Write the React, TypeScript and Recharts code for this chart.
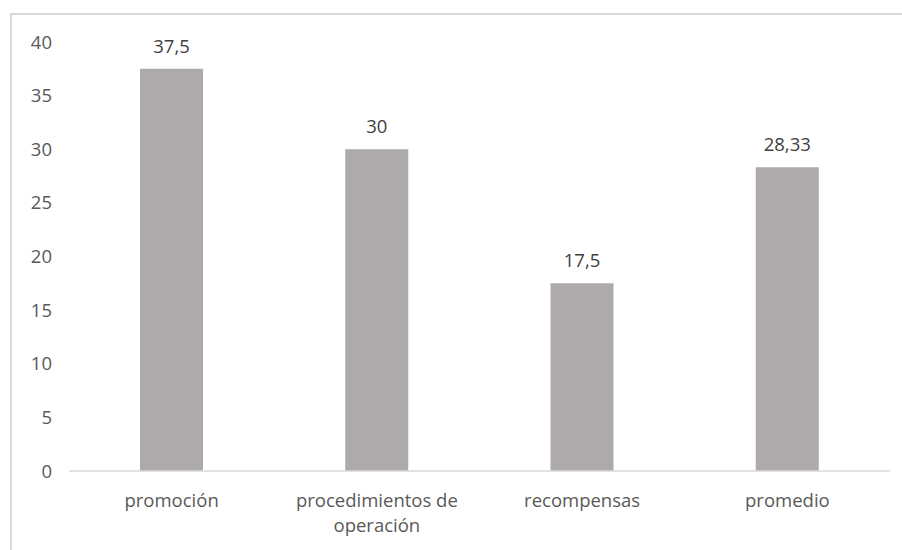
import { Bar, BarChart, LabelList, XAxis, YAxis } from 'recharts';

const categories = ['promoción', 'procedimientos de operación', 'recompensas', 'promedio'];
const values = [37.5, 30, 17.5, 28.33];
const yTicks = [0, 5, 10, 15, 20, 25, 30, 35, 40];

const chartData = categories.map((name, i) => ({ name, value: values[i] }));

const FONT = '"Open Sans", "Noto Sans", sans-serif';

// splits long labels on the last space that keeps the line under maxChars
function wrap(label: string, maxChars: number): string[] {
  const words = label.split(' ');
  const lines: string[] = [];
  let cur = '';
  for (const w of words) {
    const next = cur ? cur + ' ' + w : w;
    if (next.length > maxChars && cur) {
      lines.push(cur);
      cur = w;
    } else {
      cur = next;
    }
  }
  if (cur) lines.push(cur);
  return lines;
}

function CategoryTick(props: any) {
  const { x, y, payload } = props;
  const lines = wrap(String(payload.value), 18);
  return (
    <text x={x} y={y} textAnchor="middle" fill="#595959" fontSize={18.5} fontFamily={FONT}>
      {lines.map((line, i) => (
        <tspan key={i} x={x} dy={i === 0 ? 28 : 25}>
          {line}
        </tspan>
      ))}
    </text>
  );
}

export default function App() {
  return (
    <div
      style={{
        position: 'absolute',
        left: 0,
        top: 0,
        width: 902,
        height: 550,
        overflow: 'hidden',
        background: '#fff',
      }}
    >
      <div
        style={{
          position: 'absolute',
          left: 10,
          top: 13,
          width: 920,
          height: 560,
          border: '2px solid #D9D9D9',
          boxSizing: 'border-box',
        }}
      />
      <div style={{ position: 'absolute', left: 0, top: 0 }}>
        <BarChart
          width={902}
          height={550}
          data={chartData}
          margin={{ top: 42, right: 12, bottom: 49, left: 9 }}
        >
          <XAxis
            dataKey="name"
            height={30}
            axisLine={{ stroke: '#D9D9D9', strokeWidth: 1.5 }}
            tickLine={false}
            interval={0}
            tick={<CategoryTick />}
          />
          <YAxis
            width={60}
            domain={[0, 40]}
            ticks={yTicks}
            axisLine={false}
            tickLine={false}
            tickSize={0}
            tickMargin={17}
            tick={{ fill: '#595959', fontSize: 18.5, fontFamily: FONT }}
          />
          <Bar dataKey="value" fill="#AEAAAA" barSize={63} isAnimationActive={false}>
            <LabelList
              dataKey="value"
              position="top"
              offset={16}
              fill="#404040"
              fontSize={18.5}
              fontFamily={FONT}
              formatter={(v: any) => String(v).replace('.', ',')}
            />
          </Bar>
        </BarChart>
      </div>
    </div>
  );
}
